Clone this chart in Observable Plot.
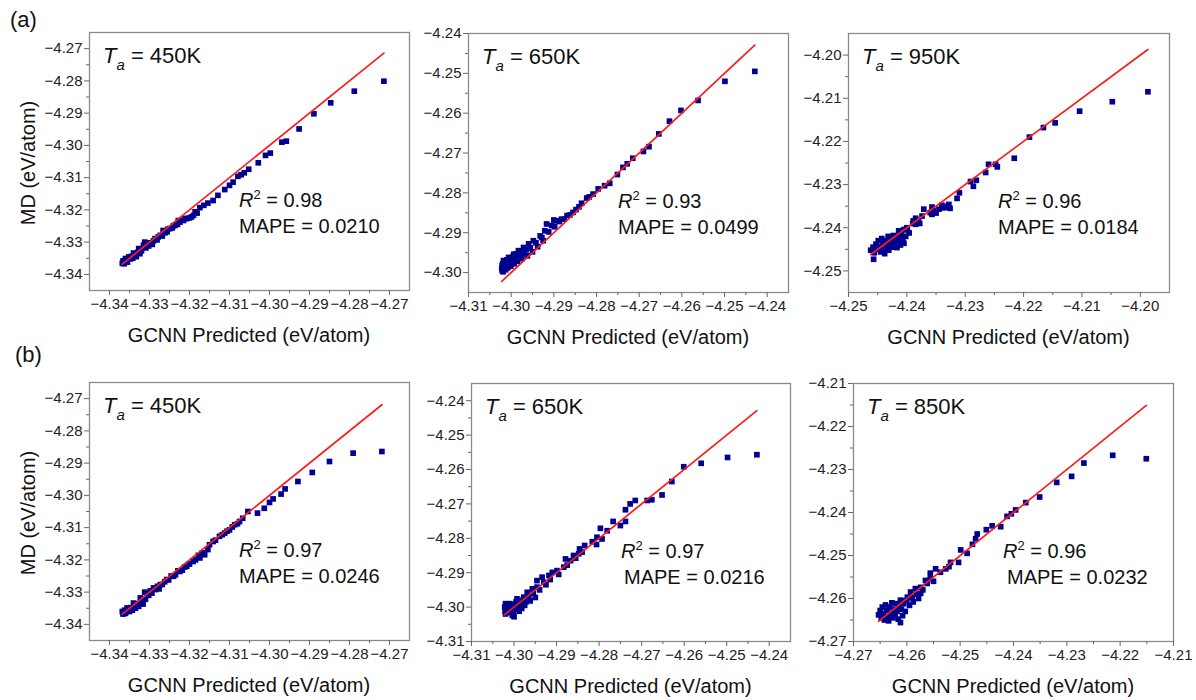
<!DOCTYPE html>
<html><head><meta charset="utf-8">
<script src="https://cdn.jsdelivr.net/npm/d3@7"></script>
<script src="https://cdn.jsdelivr.net/npm/@observablehq/plot@0.6"></script>
<style>
body{margin:0;background:#fff;}
#fig{position:relative;width:1196px;height:700px;font-family:"Liberation Sans",Arial,sans-serif;color:#111;}
#fig svg{position:absolute;overflow:visible;background:none;}
.plabel{position:absolute;font-size:22px;line-height:1;}
</style></head><body><div id="fig"></div>
<script>
// ---- data: [GCNN predicted, MD] (eV/atom) ----
const a450 = [[-4.2714,-4.2801],[-4.2788,-4.2832],[-4.2847,-4.2868],[-4.2889,-4.2902],[-4.2926,-4.2949],[-4.2958,-4.2987],[-4.2969,-4.2990],[-4.2998,-4.3024],[-4.3010,-4.3031],[-4.3028,-4.3054],[-4.3052,-4.3074],[-4.3063,-4.3085],[-4.3071,-4.3091],[-4.3079,-4.3096],[-4.3091,-4.3114],[-4.3100,-4.3124],[-4.3112,-4.3137],[-4.3129,-4.3155],[-4.3141,-4.3171],[-4.3154,-4.3179],[-4.3164,-4.3186],[-4.3174,-4.3193],[-4.3181,-4.3210],[-4.3195,-4.3222],[-4.3207,-4.3227],[-4.3224,-4.3238],[-4.3236,-4.3248],[-4.3249,-4.3258],[-4.3261,-4.3271],[-4.3273,-4.3279],[-4.3286,-4.3289],[-4.3306,-4.3303],[-4.3315,-4.3310],[-4.3327,-4.3320],[-4.3340,-4.3334],[-4.3352,-4.3346],[-4.3365,-4.3362],[-4.3360,-4.3351],
[-4.3368,-4.3366],[-4.3366,-4.3358],[-4.3363,-4.3367],[-4.3358,-4.3356],[-4.3355,-4.3362],[-4.3348,-4.3352],[-4.3345,-4.3344],[-4.3342,-4.3350],[-4.3336,-4.3340],[-4.3333,-4.3345],[-4.3330,-4.3332],[-4.3324,-4.3336],[-4.3320,-4.3327],[-4.3312,-4.3300],[-4.3309,-4.3318],[-4.3302,-4.3312],[-4.3298,-4.3302],[-4.3293,-4.3307],[-4.3290,-4.3296],[-4.3281,-4.3293],[-4.3278,-4.3284],[-4.3268,-4.3281],[-4.3266,-4.3264],[-4.3256,-4.3268],[-4.3254,-4.3260],[-4.3243,-4.3256],[-4.3240,-4.3249],[-4.3230,-4.3245],[-4.3228,-4.3233],[-4.3215,-4.3233],[-4.3212,-4.3227],[-4.3200,-4.3225],[-4.3190,-4.3217],[-4.3186,-4.3206]];
const a650 = [[-4.2429,-4.2495],[-4.2499,-4.2520],[-4.2562,-4.2568],[-4.2602,-4.2593],[-4.2629,-4.2620],[-4.2654,-4.2652],[-4.2677,-4.2684],[-4.2690,-4.2696],[-4.2715,-4.2713],[-4.2728,-4.2727],[-4.2738,-4.2736],[-4.2751,-4.2754],[-4.2769,-4.2776],[-4.2781,-4.2782],[-4.2796,-4.2790],[-4.2808,-4.2803],[-4.2823,-4.2813],[-4.2841,-4.2835],[-4.2855,-4.2849],[-4.2869,-4.2857],[-4.2882,-4.2866],[-4.2893,-4.2870],[-4.2905,-4.2882],[-4.2921,-4.2895],[-4.2932,-4.2908],[-4.2948,-4.2920],[-4.2959,-4.2928],[-4.2971,-4.2937],[-4.2983,-4.2945],[-4.2994,-4.2954],[-4.3006,-4.2962],[-4.3018,-4.2970],[-4.3021,-4.2983],[-4.3021,-4.2995],[-4.2917,-4.2878],[-4.2900,-4.2868],
[-4.3022,-4.2990],[-4.3020,-4.2978],[-4.3019,-4.2998],[-4.3017,-4.2986],[-4.3015,-4.2975],[-4.3013,-4.2993],[-4.3011,-4.2981],[-4.3010,-4.2968],[-4.3008,-4.2988],[-4.3005,-4.2976],[-4.3003,-4.2965],[-4.3001,-4.2984],[-4.2998,-4.2970],[-4.2996,-4.2960],[-4.2993,-4.2978],[-4.2990,-4.2965],[-4.2988,-4.2953],[-4.2985,-4.2972],[-4.2981,-4.2958],[-4.2978,-4.2948],[-4.2975,-4.2965],[-4.2970,-4.2952],[-4.2965,-4.2943],[-4.2962,-4.2958],[-4.2955,-4.2938],[-4.2950,-4.2948],[-4.2942,-4.2925],[-4.2938,-4.2935],[-4.2928,-4.2912],[-4.2925,-4.2920],[-4.2912,-4.2898],[-4.2898,-4.2885],[-4.2887,-4.2872],[-4.2876,-4.2866],[-4.2862,-4.2855],[-4.2848,-4.2842],[-4.2835,-4.2826],[-4.2817,-4.2810]];
const a950 = [[-4.1987,-4.2085],[-4.2048,-4.2108],[-4.2104,-4.2130],[-4.2146,-4.2157],[-4.2166,-4.2168],[-4.2190,-4.2190],[-4.2216,-4.2239],[-4.2245,-4.2259],[-4.2248,-4.2253],[-4.2260,-4.2253],[-4.2265,-4.2272],[-4.2281,-4.2290],[-4.2291,-4.2293],[-4.2286,-4.2304],[-4.2310,-4.2319],[-4.2314,-4.2332],[-4.2328,-4.2346],[-4.2331,-4.2352],[-4.2337,-4.2354],[-4.2345,-4.2357],[-4.2357,-4.2352],[-4.2357,-4.2369],[-4.2371,-4.2357],[-4.2374,-4.2373],[-4.2385,-4.2378],[-4.2389,-4.2384],[-4.2400,-4.2400],[-4.2405,-4.2404],[-4.2414,-4.2407],[-4.2457,-4.2473],[-4.2330,-4.2350],[-4.2326,-4.2355],[-4.2340,-4.2348],
[-4.2462,-4.2452],[-4.2458,-4.2445],[-4.2456,-4.2458],[-4.2453,-4.2438],[-4.2451,-4.2450],[-4.2449,-4.2430],[-4.2447,-4.2444],[-4.2445,-4.2456],[-4.2443,-4.2425],[-4.2441,-4.2437],[-4.2440,-4.2450],[-4.2438,-4.2460],[-4.2436,-4.2430],[-4.2434,-4.2442],[-4.2432,-4.2420],[-4.2431,-4.2452],[-4.2429,-4.2434],[-4.2427,-4.2426],[-4.2425,-4.2445],[-4.2423,-4.2418],[-4.2421,-4.2436],[-4.2419,-4.2428],[-4.2417,-4.2446],[-4.2415,-4.2420],[-4.2413,-4.2432],[-4.2411,-4.2440],[-4.2409,-4.2415],[-4.2407,-4.2426],[-4.2405,-4.2436],[-4.2402,-4.2420],[-4.2399,-4.2405],[-4.2396,-4.2412],[-4.2390,-4.2390],[-4.2385,-4.2392],[-4.2380,-4.2383],[-4.2378,-4.2390],[-4.2360,-4.2365],[-4.2355,-4.2360],[-4.2350,-4.2366]];
const b450 = [[-4.2719,-4.2864],[-4.2791,-4.2869],[-4.2850,-4.2895],[-4.2893,-4.2929],[-4.2929,-4.2957],[-4.2961,-4.2980],[-4.2971,-4.2996],[-4.2991,-4.3011],[-4.3000,-4.3022],[-4.3013,-4.3040],[-4.3030,-4.3055],[-4.3054,-4.3050],[-4.3067,-4.3071],[-4.3075,-4.3081],[-4.3087,-4.3091],[-4.3100,-4.3107],[-4.3112,-4.3117],[-4.3125,-4.3127],[-4.3141,-4.3143],[-4.3154,-4.3168],[-4.3162,-4.3184],[-4.3174,-4.3194],[-4.3191,-4.3205],[-4.3207,-4.3220],[-4.3224,-4.3236],[-4.3240,-4.3251],[-4.3257,-4.3261],[-4.3273,-4.3277],[-4.3290,-4.3287],[-4.3306,-4.3303],[-4.3323,-4.3318],[-4.3340,-4.3334],[-4.3356,-4.3349],[-4.3365,-4.3365],
[-4.3368,-4.3360],[-4.3366,-4.3368],[-4.3362,-4.3356],[-4.3360,-4.3366],[-4.3357,-4.3360],[-4.3353,-4.3352],[-4.3350,-4.3360],[-4.3346,-4.3348],[-4.3343,-4.3356],[-4.3338,-4.3341],[-4.3335,-4.3350],[-4.3331,-4.3336],[-4.3327,-4.3344],[-4.3320,-4.3329],[-4.3316,-4.3337],[-4.3312,-4.3300],[-4.3310,-4.3322],[-4.3302,-4.3310],[-4.3298,-4.3296],[-4.3294,-4.3303],[-4.3285,-4.3292],[-4.3280,-4.3282],[-4.3276,-4.3290],[-4.3268,-4.3276],[-4.3262,-4.3268],[-4.3252,-4.3262],[-4.3246,-4.3250],[-4.3235,-4.3246],[-4.3229,-4.3234],[-4.3218,-4.3232],[-4.3212,-4.3222],[-4.3200,-4.3213],[-4.3185,-4.3200],[-4.3178,-4.3186],[-4.3168,-4.3178],[-4.3150,-4.3153],[-4.3135,-4.3139],[-4.3118,-4.3122],[-4.3106,-4.3111],[-4.3093,-4.3098],[-4.3080,-4.3088]];
const b650 = [[-4.2429,-4.2557],[-4.2498,-4.2565],[-4.2560,-4.2582],[-4.2601,-4.2592],[-4.2629,-4.2635],[-4.2652,-4.2674],[-4.2676,-4.2688],[-4.2687,-4.2690],[-4.2715,-4.2690],[-4.2727,-4.2700],[-4.2738,-4.2717],[-4.2738,-4.2751],[-4.2750,-4.2763],[-4.2767,-4.2751],[-4.2781,-4.2778],[-4.2797,-4.2771],[-4.2793,-4.2802],[-4.2805,-4.2797],[-4.2806,-4.2818],[-4.2816,-4.2810],[-4.2834,-4.2821],[-4.2846,-4.2831],[-4.2848,-4.2845],[-4.2860,-4.2850],[-4.2867,-4.2865],[-4.2879,-4.2860],[-4.2883,-4.2884],[-4.2899,-4.2894],[-4.2910,-4.2899],[-4.2918,-4.2908],[-4.2934,-4.2913],[-4.2930,-4.2928],[-4.2946,-4.2923],[-4.2946,-4.2942],[-4.2957,-4.2947],[-4.2969,-4.2957],[-4.2977,-4.2971],[-4.2981,-4.2981],[-4.2993,-4.2976],[-4.2997,-4.2991],[-4.3008,-4.2995],[-4.3016,-4.3005],[-4.3020,-4.3020],[-4.3004,-4.3024],
[-4.3022,-4.3000],[-4.3021,-4.3012],[-4.3020,-4.2990],[-4.3018,-4.3008],[-4.3016,-4.2995],[-4.3014,-4.3016],[-4.3012,-4.3003],[-4.3010,-4.2990],[-4.3008,-4.3012],[-4.3006,-4.3000],[-4.3002,-4.3018],[-4.3000,-4.3028],[-4.2998,-4.3006],[-4.2995,-4.2985],[-4.2992,-4.3000],[-4.2988,-4.3012],[-4.2985,-4.2990],[-4.2982,-4.3004],[-4.2978,-4.2978],[-4.2975,-4.2995],[-4.2972,-4.2985],[-4.2965,-4.2970],[-4.2962,-4.2982],[-4.2955,-4.2960],[-4.2950,-4.2972],[-4.2940,-4.2950],[-4.2925,-4.2935],[-4.2915,-4.2920],[-4.2895,-4.2905],[-4.2875,-4.2878],[-4.2855,-4.2858],[-4.2840,-4.2840]];
const b850 = [[-4.2151,-4.2275],[-4.2214,-4.2267],[-4.2268,-4.2285],[-4.2291,-4.2316],[-4.2319,-4.2330],[-4.2351,-4.2364],[-4.2377,-4.2377],[-4.2396,-4.2394],[-4.2404,-4.2403],[-4.2412,-4.2409],[-4.2424,-4.2433],[-4.2440,-4.2431],[-4.2451,-4.2440],[-4.2468,-4.2450],[-4.2471,-4.2461],[-4.2477,-4.2474],[-4.2487,-4.2495],[-4.2499,-4.2487],[-4.2503,-4.2516],[-4.2518,-4.2516],[-4.2521,-4.2526],[-4.2527,-4.2531],[-4.2537,-4.2539],[-4.2546,-4.2531],[-4.2556,-4.2541],[-4.2556,-4.2554],[-4.2565,-4.2558],[-4.2574,-4.2574],[-4.2574,-4.2588],[-4.2584,-4.2577],[-4.2593,-4.2585],[-4.2599,-4.2597],[-4.2609,-4.2605],[-4.2612,-4.2656],
[-4.2653,-4.2638],[-4.2650,-4.2628],[-4.2648,-4.2645],[-4.2646,-4.2620],[-4.2644,-4.2636],[-4.2642,-4.2650],[-4.2640,-4.2615],[-4.2638,-4.2628],[-4.2636,-4.2642],[-4.2634,-4.2652],[-4.2632,-4.2620],[-4.2630,-4.2634],[-4.2628,-4.2610],[-4.2626,-4.2645],[-4.2624,-4.2625],[-4.2622,-4.2638],[-4.2620,-4.2612],[-4.2618,-4.2630],[-4.2616,-4.2648],[-4.2614,-4.2618],[-4.2612,-4.2604],[-4.2610,-4.2625],[-4.2608,-4.2640],[-4.2606,-4.2612],[-4.2603,-4.2630],[-4.2600,-4.2605],[-4.2595,-4.2616],[-4.2590,-4.2598],[-4.2588,-4.2608],[-4.2582,-4.2590],[-4.2578,-4.2600],[-4.2570,-4.2580],[-4.2562,-4.2565],[-4.2550,-4.2560]];

// ---- annotation texts ----
const temps = ["450K","650K","950K","450K","650K","850K"];
const r2Values = ["0.98","0.93","0.96","0.97","0.97","0.96"];
const mapeValues = ["0.0210","0.0499","0.0184","0.0246","0.0216","0.0232"];

// ---- axes: domains and tick values ----
const xDomains = [[-4.345,-4.265],[-4.31,-4.235],[-4.25,-4.195],[-4.345,-4.265],[-4.31,-4.235],[-4.27,-4.21]];
const yDomains = [[-4.345,-4.265],[-4.305,-4.24],[-4.255,-4.195],[-4.345,-4.265],[-4.31,-4.235],[-4.27,-4.21]];
const xTicks = [
  [-4.34,-4.33,-4.32,-4.31,-4.30,-4.29,-4.28,-4.27],
  [-4.31,-4.30,-4.29,-4.28,-4.27,-4.26,-4.25,-4.24],
  [-4.25,-4.24,-4.23,-4.22,-4.21,-4.20],
  [-4.34,-4.33,-4.32,-4.31,-4.30,-4.29,-4.28,-4.27],
  [-4.31,-4.30,-4.29,-4.28,-4.27,-4.26,-4.25,-4.24],
  [-4.27,-4.26,-4.25,-4.24,-4.23,-4.22,-4.21]];
const yTicks = [
  [-4.34,-4.33,-4.32,-4.31,-4.30,-4.29,-4.28,-4.27],
  [-4.30,-4.29,-4.28,-4.27,-4.26,-4.25,-4.24],
  [-4.25,-4.24,-4.23,-4.22,-4.21,-4.20],
  [-4.34,-4.33,-4.32,-4.31,-4.30,-4.29,-4.28,-4.27],
  [-4.31,-4.30,-4.29,-4.28,-4.27,-4.26,-4.25,-4.24],
  [-4.27,-4.26,-4.25,-4.24,-4.23,-4.22,-4.21]];
const datasets = [a450, a650, a950, b450, b650, b850];

// ---- layout (frame boxes in page pixels) ----
const frames = [
  {l:89, t:32, w:320, h:258},
  {l:468, t:33, w:320, h:259},
  {l:848, t:33, w:321, h:259},
  {l:89, t:382, w:320, h:258},
  {l:471, t:383, w:319, h:258},
  {l:853, t:383, w:320, h:258}];
const mapeIndent = [0,0,0,0,3,4];

const FONT = '"Liberation Sans", Arial, sans-serif';
const fmt = d3.format(".2f");
const mids = t => d3.pairs(t).map(([a,b]) => (a+b)/2);
const fig = document.getElementById("fig");
const ML = 60, MR = 10, MT = 10, MB = 60;

datasets.forEach((pts, i) => {
  const f = frames[i];
  const ext = d3.extent(pts, d => d[0]);
  const diag = [[ext[0], ext[0]], [ext[1], ext[1]]];
  const plot = Plot.plot({
    width: f.w + ML + MR, height: f.h + MT + MB,
    marginLeft: ML, marginRight: MR, marginTop: MT, marginBottom: MB,
    x: {domain: xDomains[i]}, y: {domain: yDomains[i]},
    style: {fontFamily: FONT, fontSize: "15px", background: "transparent", overflow: "visible"},
    marks: [
      Plot.dot(pts, {x: d => d[0], y: d => d[1], symbol: "square", r: 3.2, fill: "#00008f", stroke: null}),
      Plot.line(diag, {x: d => d[0], y: d => d[1], stroke: "#ff1a1a", strokeWidth: 1.7}),
      Plot.frame({stroke: "#8a8a8a", strokeWidth: 1.3}),
      Plot.axisX(xTicks[i], {tickSize: 5, tickPadding: 3, tickFormat: fmt, stroke: "#666", fill: "#222", label: null}),
      Plot.axisX(mids(xTicks[i]), {tickSize: 3, tickFormat: () => "", stroke: "#666", label: null}),
      Plot.axisY(yTicks[i], {tickSize: 5, tickPadding: 2, tickFormat: fmt, stroke: "#666", fill: "#222", label: null}),
      Plot.axisY(mids(yTicks[i]), {tickSize: 3, tickFormat: () => "", stroke: "#666", label: null})
    ]
  });
  plot.style.left = (f.l - ML) + "px";
  plot.style.top = (f.t - MT) + "px";
  const svg = d3.select(plot);
  const g = svg.append("g").attr("font-family", FONT).attr("fill", "#111")
    .attr("text-anchor", "start").style("white-space", "pre");
  // T_a label
  const t1 = g.append("text").attr("x", ML + 14).attr("y", MT + 31).attr("font-size", 22);
  t1.append("tspan").attr("font-style", "italic").text("T");
  t1.append("tspan").attr("font-style", "italic").attr("font-size", 15).attr("dy", 7).text("a");
  t1.append("tspan").attr("dy", -7).text(" = " + temps[i]);
  // R^2
  const t2 = g.append("text").attr("x", ML + 150).attr("y", MT + 175).attr("font-size", 20);
  t2.append("tspan").attr("font-style", "italic").text("R");
  t2.append("tspan").attr("font-size", 13).attr("dy", -8).text("2");
  t2.append("tspan").attr("dy", 8).text(" = " + r2Values[i]);
  // MAPE
  g.append("text").attr("x", ML + 150 + mapeIndent[i]).attr("y", MT + 201).attr("font-size", 20)
    .text("MAPE = " + mapeValues[i]);
  // x title
  g.append("text").attr("x", ML + f.w / 2).attr("y", MT + f.h + 52).attr("font-size", 20)
    .attr("text-anchor", "middle").text("GCNN Predicted (eV/atom)");
  // y title (first column only)
  if (i % 3 === 0) {
    g.append("text").attr("transform", `translate(${ML - 54},${MT + f.h / 2 + 2}) rotate(-90)`)
      .attr("font-size", 20).attr("text-anchor", "middle").text("MD (eV/atom)");
  }
  fig.appendChild(plot);
});

[["(a)", 10, 9], ["(b)", 15, 344]].forEach(([s, x, y]) => {
  const d = document.createElement("div");
  d.className = "plabel"; d.textContent = s;
  d.style.left = x + "px"; d.style.top = y + "px";
  fig.appendChild(d);
});
</script>
</body></html>
